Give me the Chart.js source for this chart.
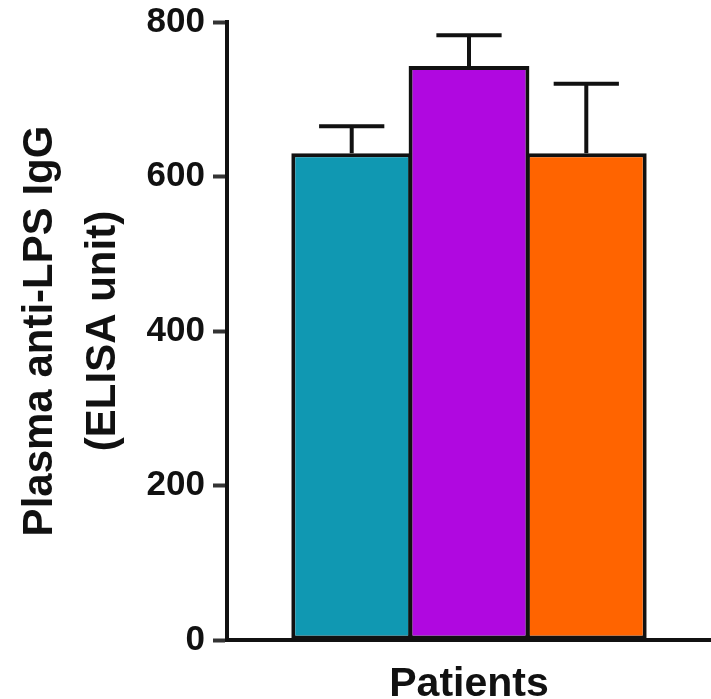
<!DOCTYPE html>
<html>
<head>
<meta charset="utf-8">
<script src="https://cdn.jsdelivr.net/npm/chart.js@4/dist/chart.umd.min.js"></script>
<style>
  html, body { margin: 0; padding: 0; background: #fff; }
  #wrap { width: 711px; height: 699px; }
</style>
</head>
<body>
<div id="wrap"><canvas id="lps-igg"></canvas></div>
<script>
// values
var categories = ['Patients'];
var groups = ['Group 1', 'Group 2', 'Group 3'];
var means = [630, 743, 630];
var upperErr = [665, 783, 720];   // top of each error bar
var yTicks = [0, 200, 400, 600, 800];
var colors = ['#1098B2', '#B008E0', '#FF6400'];

var FONT = 'Liberation Sans, Arial, Helvetica, sans-serif';

// simple error bars (upwards only), drawn through the chart scales
var errorBars = {
    id: 'errorBars',
    afterDatasetsDraw: function (chart) {
        var ctx = chart.ctx;
        var y = chart.scales.y;
        ctx.save();
        ctx.strokeStyle = '#111';
        ctx.lineWidth = 4;
        chart.data.datasets.forEach(function (ds, i) {
            var bar = chart.getDatasetMeta(i).data[0];
            var yTop = y.getPixelForValue(upperErr[i]);
            var yBar = y.getPixelForValue(means[i]);
            var half = bar.width * 0.27;
            ctx.beginPath();
            ctx.moveTo(bar.x, yBar);
            ctx.lineTo(bar.x, yTop);
            ctx.moveTo(bar.x - half, yTop);
            ctx.lineTo(bar.x + half, yTop);
            ctx.stroke();
        });
        ctx.restore();
    }
};

var lpsChart = new Chart(document.getElementById('lps-igg'), {
    type: 'bar',
    data: {
        labels: categories,
        datasets: groups.map(function (g, i) {
            return {
                label: g,
                data: [means[i]],
                backgroundColor: colors[i],
                borderColor: '#111',
                borderWidth: 4,
                borderSkipped: false,
                barPercentage: 1.03,
                categoryPercentage: 0.727
            };
        })
    },
    options: {
        responsive: true,
        maintainAspectRatio: false,
        animation: false,
        layout: { padding: { top: 22, right: 0, bottom: 0, left: 0 } },
        plugins: {
            legend: { display: false }, // no legend in the figure
            tooltip: { enabled: false }
        },
        scales: {
            x: {
                grid: { display: false },
                border: { display: true, color: '#111', width: 4 },
                ticks: {
                    color: '#111',
                    padding: 12,
                    font: { family: FONT, size: 41, weight: 'bold' }
                },
                afterFit: function (scale) { scale.height = 59; }
            },
            y: {
                min: 0,
                max: 800,
                afterBuildTicks: function (scale) {
                    scale.ticks = yTicks.map(function (v) { return { value: v }; });
                },
                grid: {
                    drawOnChartArea: false,
                    drawTicks: true,
                    tickLength: 14,
                    tickWidth: 4,
                    tickColor: '#333'
                },
                border: { display: true, color: '#111', width: 4 },
                ticks: {
                    color: '#111',
                    padding: 8,
                    font: { family: FONT, size: 35, weight: 'bold', lineHeight: 0.8 }
                },
                title: {
                    display: true,
                    text: ['Plasma anti-LPS IgG', '(ELISA unit)'],
                    color: '#111',
                    padding: { top: 9, bottom: 0 },
                    font: { family: FONT, size: 42, weight: 'bold', lineHeight: 1.5 }
                },
                afterFit: function (scale) { scale.width = 227; }
            }
        }
    },
    plugins: [errorBars]
});
</script>
</body>
</html>
